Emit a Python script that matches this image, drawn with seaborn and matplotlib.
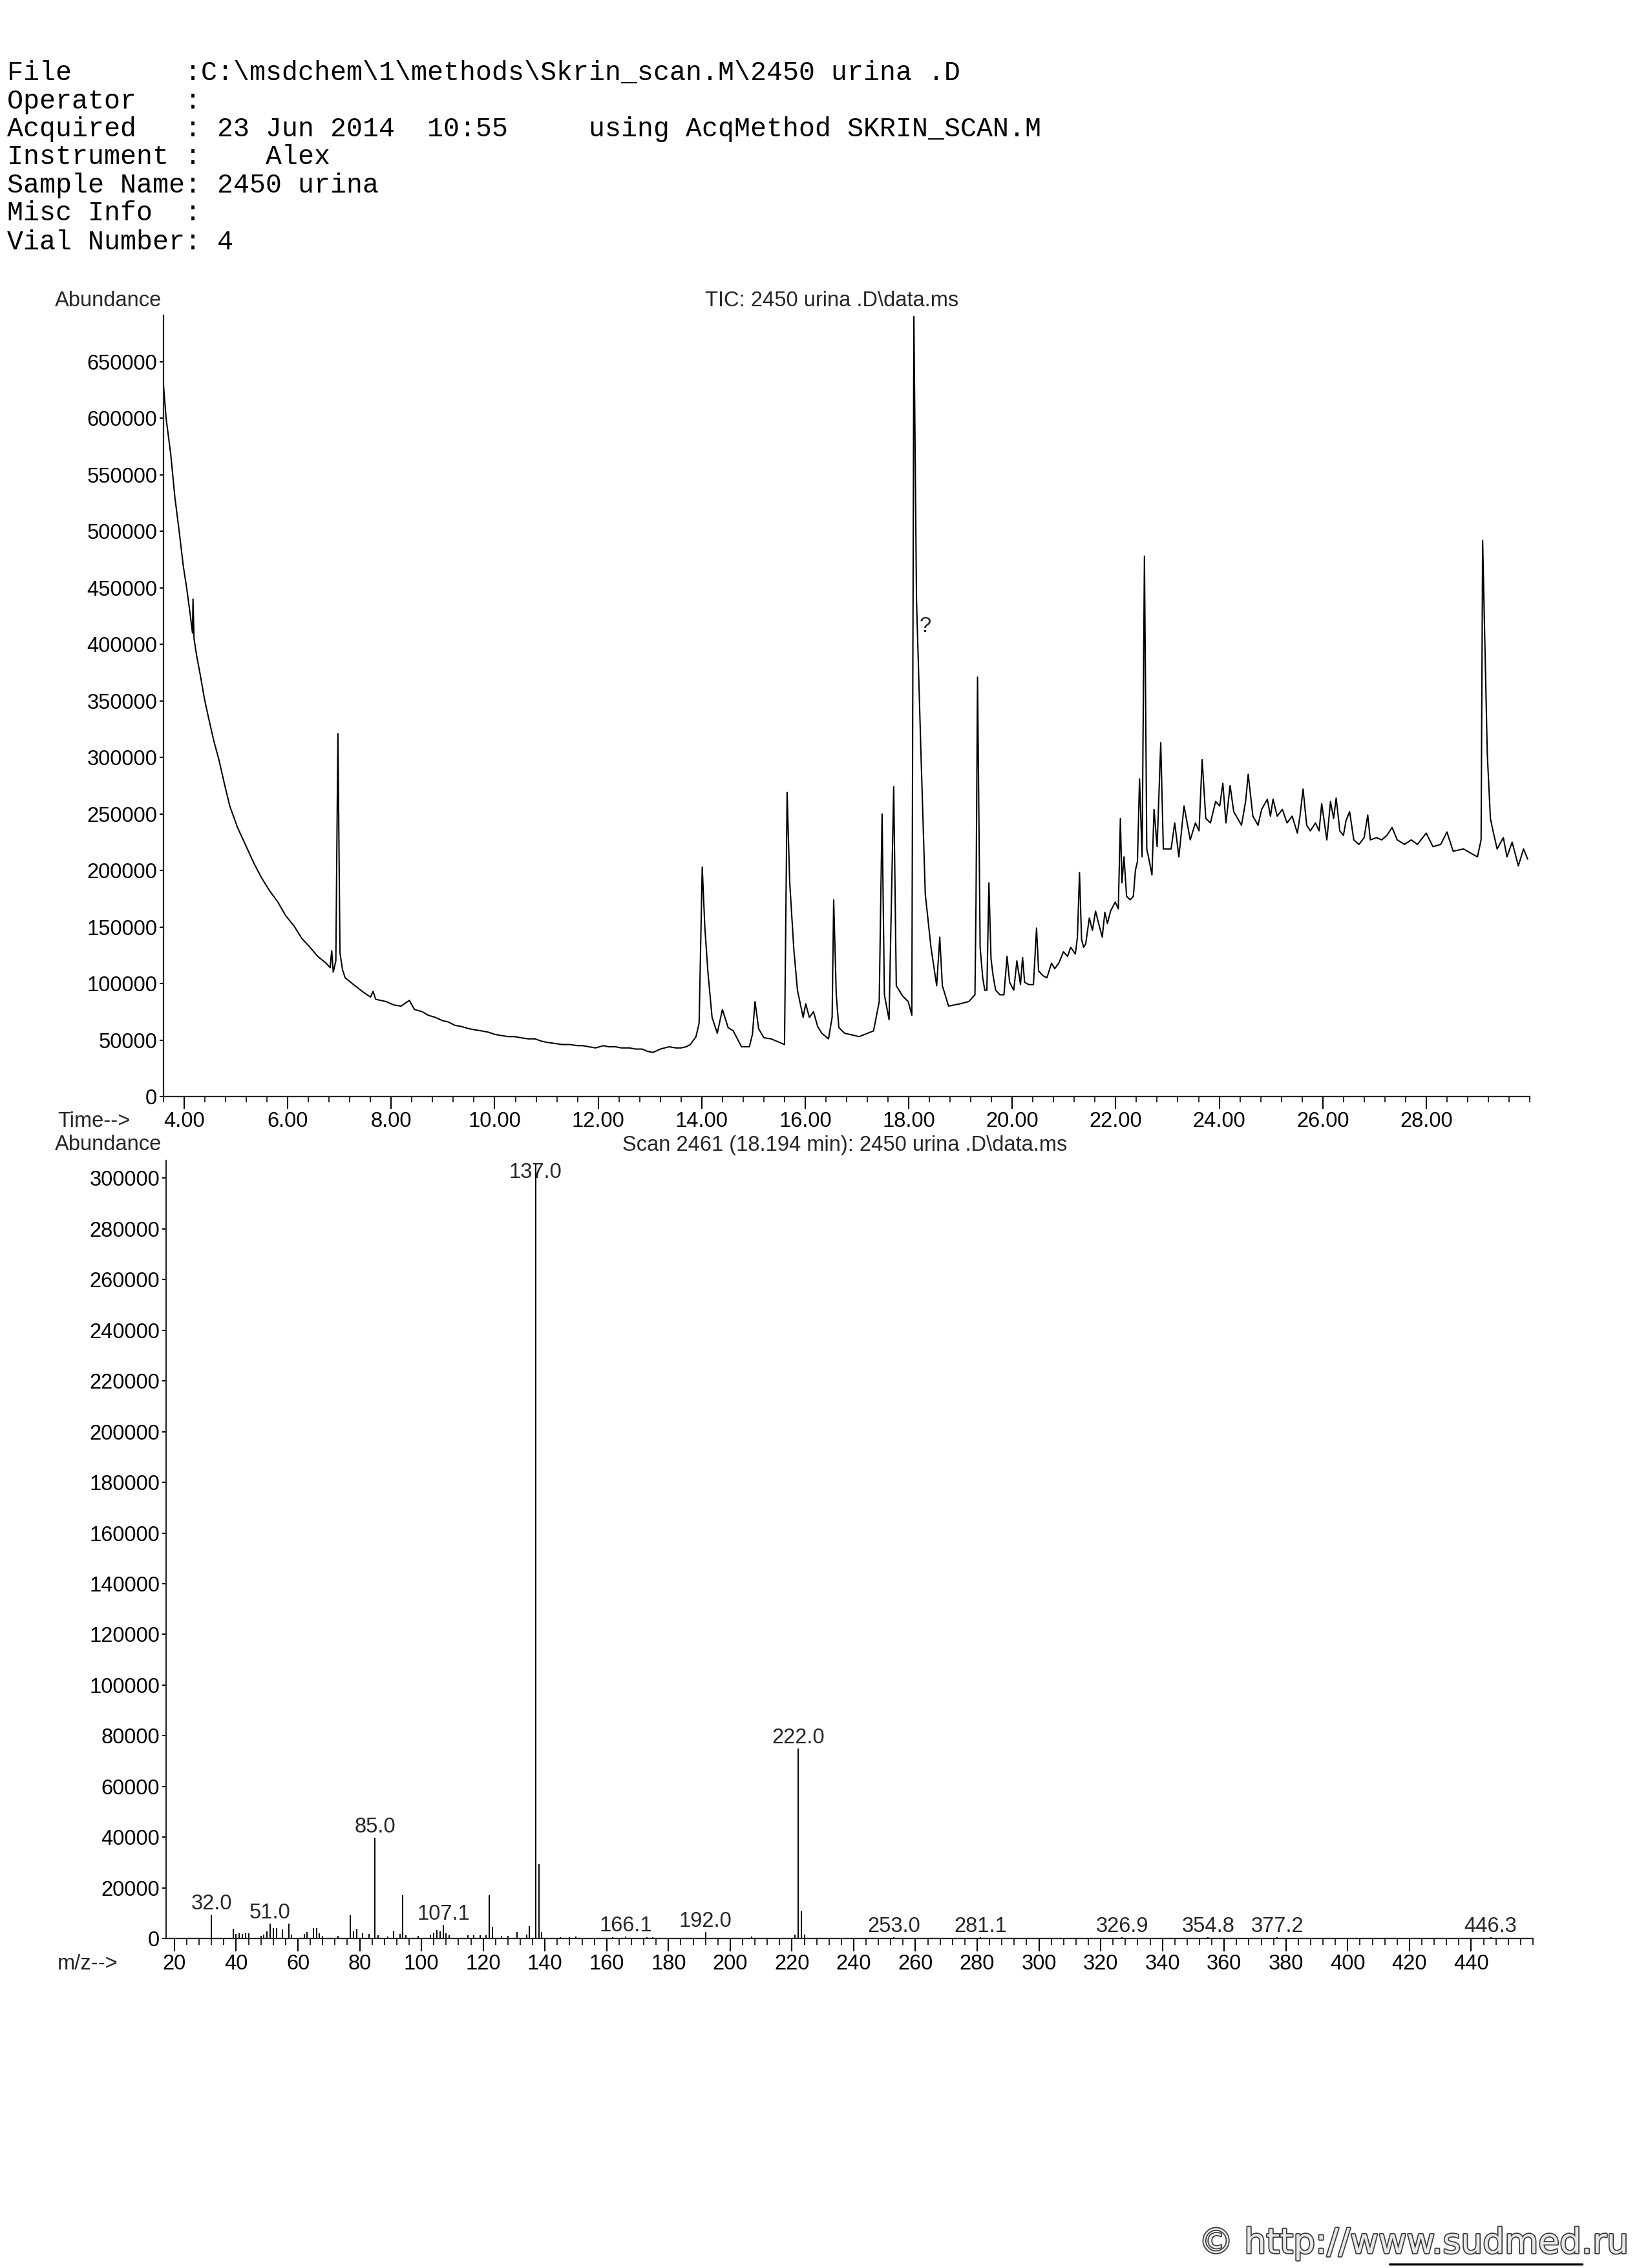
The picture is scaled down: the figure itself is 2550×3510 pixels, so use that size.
import matplotlib
matplotlib.use("Agg")
import matplotlib.pyplot as plt
import matplotlib.patheffects as pe
from matplotlib.lines import Line2D
from matplotlib.ticker import MultipleLocator, FormatStrFormatter
import seaborn as sns
import pandas as pd

# header block (monospaced printout)
header_lines = [
    r"File       :C:\msdchem\1\methods\Skrin_scan.M\2450 urina .D",
    r"Operator   :",
    r"Acquired   : 23 Jun 2014  10:55     using AcqMethod SKRIN_SCAN.M",
    r"Instrument :    Alex",
    r"Sample Name: 2450 urina",
    r"Misc Info  :",
    r"Vial Number: 4",
]

# TIC trace: (time min, abundance)
tic_trace = [
    (3.59, 635000), (3.65, 600000), (3.74, 568000), (3.82, 530000), (3.90, 501000),
    (3.98, 470000), (4.05, 449000), (4.12, 425000), (4.16, 410000), (4.17, 440000),
    (4.19, 405000), (4.24, 390000), (4.31, 373000), (4.39, 352000), (4.47, 335000),
    (4.57, 315000), (4.67, 298000), (4.78, 276000), (4.88, 257000), (5.03, 238000),
    (5.19, 222000), (5.35, 206000), (5.50, 193000), (5.65, 182000), (5.81, 172000),
    (5.96, 160000), (6.12, 151000), (6.27, 140000), (6.43, 132000), (6.58, 124000),
    (6.74, 118000), (6.82, 114000), (6.85, 129000), (6.88, 110000), (6.93, 120000),
    (6.97, 321000), (7.01, 127000), (7.06, 112000), (7.11, 105000), (7.30, 98000),
    (7.47, 92000), (7.60, 88000), (7.65, 93000), (7.70, 86000), (7.90, 84000),
    (8.05, 81000), (8.19, 80000), (8.35, 85000), (8.45, 77000), (8.60, 75000),
    (8.71, 72000), (8.85, 70000), (9.00, 67000), (9.10, 66000), (9.23, 63000),
    (9.35, 62000), (9.50, 60000), (9.62, 59000), (9.75, 58000), (9.87, 57000),
    (10.00, 55000), (10.12, 54000), (10.26, 53000), (10.38, 53000), (10.50, 52000),
    (10.65, 51000), (10.78, 51000), (10.90, 49000), (11.00, 48000), (11.15, 47000),
    (11.30, 46000), (11.45, 46000), (11.60, 45000), (11.70, 45000), (11.82, 44000),
    (11.95, 43000), (12.10, 45000), (12.20, 44000), (12.33, 44000), (12.45, 43000),
    (12.60, 43000), (12.72, 42000), (12.85, 42000), (12.95, 40000), (13.06, 39000),
    (13.20, 42000), (13.37, 44000), (13.50, 43000), (13.60, 43000), (13.70, 44000),
    (13.78, 46000), (13.89, 53000), (13.95, 65000), (14.01, 203000), (14.06, 150000),
    (14.12, 110000), (14.20, 70000), (14.30, 56000), (14.40, 77000), (14.51, 61000),
    (14.61, 58000), (14.77, 44000), (14.92, 44000), (14.98, 55000), (15.03, 84000),
    (15.10, 60000), (15.20, 52000), (15.34, 51000), (15.60, 46000), (15.65, 269000),
    (15.70, 190000), (15.78, 130000), (15.85, 94000), (15.96, 70000), (16.01, 82000),
    (16.08, 70000), (16.16, 75000), (16.24, 62000), (16.32, 56000), (16.45, 51000),
    (16.52, 70000), (16.55, 174000), (16.60, 90000), (16.65, 61000), (16.76, 56000),
    (17.04, 53000), (17.32, 58000), (17.43, 84000), (17.485, 250000), (17.53, 90000),
    (17.62, 68000), (17.71, 274000), (17.76, 98000), (17.88, 89000), (17.99, 84000),
    (18.06, 72000), (18.10, 690000), (18.15, 440000), (18.24, 298000), (18.32, 179000),
    (18.43, 132000), (18.54, 98000), (18.60, 141000), (18.65, 98000), (18.77, 80000),
    (18.99, 82000), (19.16, 84000), (19.28, 90000), (19.30, 170000), (19.33, 371000),
    (19.38, 132000), (19.43, 105000), (19.47, 94000), (19.51, 94000), (19.55, 189000),
    (19.59, 122000), (19.63, 107000), (19.68, 94000), (19.76, 90000), (19.84, 90000),
    (19.90, 124000), (19.95, 101000), (20.03, 94000), (20.09, 120000), (20.16, 99000),
    (20.20, 123000), (20.24, 101000), (20.32, 99000), (20.41, 99000), (20.47, 149000),
    (20.51, 111000), (20.59, 107000), (20.67, 105000), (20.76, 118000), (20.82, 113000),
    (20.90, 118000), (20.99, 128000), (21.07, 124000), (21.13, 132000), (21.22, 126000),
    (21.26, 141000), (21.30, 198000), (21.34, 139000), (21.38, 132000), (21.42, 135000),
    (21.49, 158000), (21.55, 147000), (21.61, 164000), (21.67, 153000), (21.74, 141000),
    (21.79, 163000), (21.84, 153000), (21.90, 164000), (21.99, 172000), (22.05, 166000),
    (22.09, 246000), (22.12, 189000), (22.16, 212000), (22.21, 177000), (22.28, 174000),
    (22.34, 177000), (22.38, 200000), (22.42, 208000), (22.46, 281000), (22.51, 212000),
    (22.555, 478000), (22.60, 219000), (22.65, 208000), (22.70, 196000), (22.74, 254000),
    (22.80, 221000), (22.87, 313000), (22.92, 219000), (22.99, 219000), (23.07, 219000),
    (23.14, 242000), (23.22, 212000), (23.32, 257000), (23.44, 227000), (23.54, 242000),
    (23.61, 235000), (23.67, 298000), (23.74, 246000), (23.83, 242000), (23.93, 261000),
    (24.01, 257000), (24.07, 277000), (24.13, 242000), (24.21, 275000), (24.28, 252000),
    (24.43, 240000), (24.51, 261000), (24.56, 285000), (24.65, 248000), (24.75, 240000),
    (24.82, 254000), (24.93, 263000), (24.99, 248000), (25.04, 263000), (25.12, 248000),
    (25.22, 254000), (25.31, 242000), (25.41, 248000), (25.51, 233000), (25.56, 248000),
    (25.62, 272000), (25.69, 240000), (25.76, 235000), (25.86, 242000), (25.93, 235000),
    (25.98, 259000), (26.08, 227000), (26.15, 261000), (26.21, 246000), (26.26, 264000),
    (26.33, 235000), (26.40, 231000), (26.45, 244000), (26.52, 252000), (26.60, 227000),
    (26.70, 223000), (26.80, 229000), (26.87, 249000), (26.92, 227000), (27.04, 229000),
    (27.14, 227000), (27.24, 231000), (27.34, 238000), (27.44, 227000), (27.58, 223000),
    (27.71, 227000), (27.83, 223000), (28.00, 233000), (28.13, 221000), (28.28, 223000),
    (28.40, 234000), (28.52, 217000), (28.72, 219000), (28.87, 215000), (28.99, 212000),
    (29.06, 227000), (29.09, 492000), (29.18, 303000), (29.24, 246000), (29.29, 235000),
    (29.37, 219000), (29.49, 229000), (29.56, 212000), (29.66, 225000), (29.78, 204000),
    (29.88, 219000), (29.96, 210000),
]
tic_xticks = [4, 6, 8, 10, 12, 14, 16, 18, 20, 22, 24, 26, 28]
tic_yticks = list(range(0, 650001, 50000))

# mass spectrum at scan 2461
ms_mz = [32, 39, 40, 41, 42, 43, 44, 48, 49, 50,
         51, 52, 53, 55, 57, 58, 62, 63, 65, 66,
         67, 68, 73, 77, 78, 79, 81, 83, 85, 86,
         89, 91, 93, 94, 95, 99, 103, 104, 105, 106,
         107.1, 108, 109, 115, 117, 119, 121, 122, 123, 126,
         128, 131, 134, 135, 137, 138, 139, 145, 148, 150,
         162, 166.1, 173, 175, 192, 207, 221, 222, 223, 224,
         253, 281.1, 326.9, 354.8, 377.2, 446.3]
ms_abund = [9300, 3700, 1900, 2100, 1900, 2000, 2100, 1000, 1500, 2900,
            5800, 4200, 4200, 3600, 5800, 1500, 1900, 2500, 4000, 4200,
            2100, 1000, 1000, 9300, 2700, 3700, 2000, 1900, 39800, 1200,
            800, 3100, 1900, 17100, 1400, 1000, 1400, 2400, 3400, 2700,
            5300, 2000, 1200, 1400, 1300, 1300, 1400, 17000, 4700, 1000,
            1000, 2500, 1600, 4800, 306000, 29200, 2500, 600, 600, 800,
            600, 800, 500, 500, 2500, 800, 1500, 75000, 10800, 1600,
            500, 500, 400, 400, 400, 500]
ms_label_mz = [32, 51, 85, 107.1, 137, 166.1, 192, 222, 253, 281.1, 326.9, 354.8, 377.2, 446.3]
ms_labels = ["32.0", "51.0", "85.0", "107.1", "137.0", "166.1", "192.0", "222.0",
             "253.0", "281.1", "326.9", "354.8", "377.2", "446.3"]
ms_xticks = list(range(20, 441, 20))
ms_yticks = list(range(0, 300001, 20000))

tic_df = pd.DataFrame(tic_trace, columns=["time", "abundance"])
ms_df = pd.DataFrame({"mz": ms_mz, "abundance": ms_abund})

sns.set_theme(style="ticks")
plt.rcParams["font.family"] = ["Liberation Sans", "DejaVu Sans"]
plt.rcParams["axes.linewidth"] = 1.6

W, H = 2550, 3510
FS = 23.5


def box(l, t, r, b):
    return [l / W, 1 - b / H, (r - l) / W, (b - t) / H]


fig = plt.figure(figsize=(W / 100, H / 100), dpi=100)
fig.patch.set_facecolor("white")

# header
header_base = [124, 168, 211, 254, 298, 341, 386]
for line, yb in zip(header_lines, header_base):
    fig.text(11 / W, 1 - yb / H, line, family=["Liberation Mono", "DejaVu Sans Mono"],
             fontsize=30, va="baseline", ha="left", color="black")

# --- TIC ---
ax1 = fig.add_axes(box(253, 488, 2367, 1697))
sns.lineplot(data=tic_df, x="time", y="abundance", ax=ax1, color="black",
             linewidth=1.5, estimator=None, sort=False)
ax1.set_xlim(3.6, 30.0)
ax1.set_ylim(0, 691000)
ax1.set_xlabel("")
ax1.set_ylabel("")
ax1.set_facecolor("white")
sns.despine(ax=ax1)
ax1.set_xticks(tic_xticks)
ax1.xaxis.set_minor_locator(MultipleLocator(0.4))
ax1.xaxis.set_major_formatter(FormatStrFormatter("%.2f"))
ax1.set_yticks(tic_yticks)
ax1.yaxis.set_major_formatter(FormatStrFormatter("%d"))
ax1.tick_params(axis="x", which="major", length=13.5, width=1.5, pad=3, labelsize=FS, colors="black")
ax1.tick_params(axis="x", which="minor", length=6.5, width=1.4)
ax1.tick_params(axis="y", length=4, width=1.4, pad=3, labelsize=FS, colors="black")
ax1.text(18.32, 416000, "?", fontsize=FS, ha="center", va="center")

fig.text(85 / W, 1 - 465 / H, "Abundance", fontsize=FS, va="center", ha="left")
fig.text(1287 / W, 1 - 465 / H, r"TIC: 2450 urina .D\data.ms", fontsize=FS, va="center", ha="center")
fig.text(89 / W, 1 - 1735 / H, "Time-->", fontsize=FS, va="center", ha="left")

# --- mass spectrum ---
ax2 = fig.add_axes(box(257, 1796, 2372, 3000))
ax2.vlines(ms_df["mz"], 0, ms_df["abundance"], colors="black", linewidth=1.4)
ax2.set_xlim(17.3, 460)
ax2.set_ylim(0, 307000)
ax2.set_facecolor("white")
sns.despine(ax=ax2)
ax2.set_xticks(ms_xticks)
ax2.xaxis.set_minor_locator(MultipleLocator(4))
ax2.xaxis.set_major_formatter(FormatStrFormatter("%d"))
ax2.set_yticks(ms_yticks)
ax2.yaxis.set_major_formatter(FormatStrFormatter("%d"))
ax2.tick_params(axis="x", which="major", length=14.5, width=1.5, pad=3, labelsize=FS, colors="black")
ax2.tick_params(axis="x", which="minor", length=7, width=1.4)
ax2.tick_params(axis="y", length=4, width=1.4, pad=3, labelsize=FS, colors="black")

peak_height = dict(zip(ms_mz, ms_abund))
for mz, lab in zip(ms_label_mz, ms_labels):
    h = min(peak_height[mz], 298000)
    ax2.annotate(lab, xy=(mz, h), xytext=(0, 6), textcoords="offset points",
                 ha="center", va="baseline", fontsize=FS)

fig.text(85 / W, 1 - 1772 / H, "Abundance", fontsize=FS, va="center", ha="left")
fig.text(1307 / W, 1 - 1772 / H, r"Scan 2461 (18.194 min): 2450 urina .D\data.ms",
         fontsize=FS, va="center", ha="center")
fig.text(89 / W, 1 - 3040 / H, "m/z-->", fontsize=FS, va="center", ha="left")

# watermark
fig.text(2520 / W, 1 - 3487 / H, "\u00a9 http://www.sudmed.ru", family="DejaVu Sans",
         fontsize=38.5, ha="right", va="baseline", color="#e8e8e8",
         path_effects=[pe.withStroke(linewidth=2.5, foreground="#3a3a3a")])
fig.add_artist(Line2D([2150 / W, 2448 / W], [1 - 3504 / H, 1 - 3504 / H],
                      transform=fig.transFigure, color="black", linewidth=2.5))

fig.savefig("out.png", dpi=100, facecolor="white")
